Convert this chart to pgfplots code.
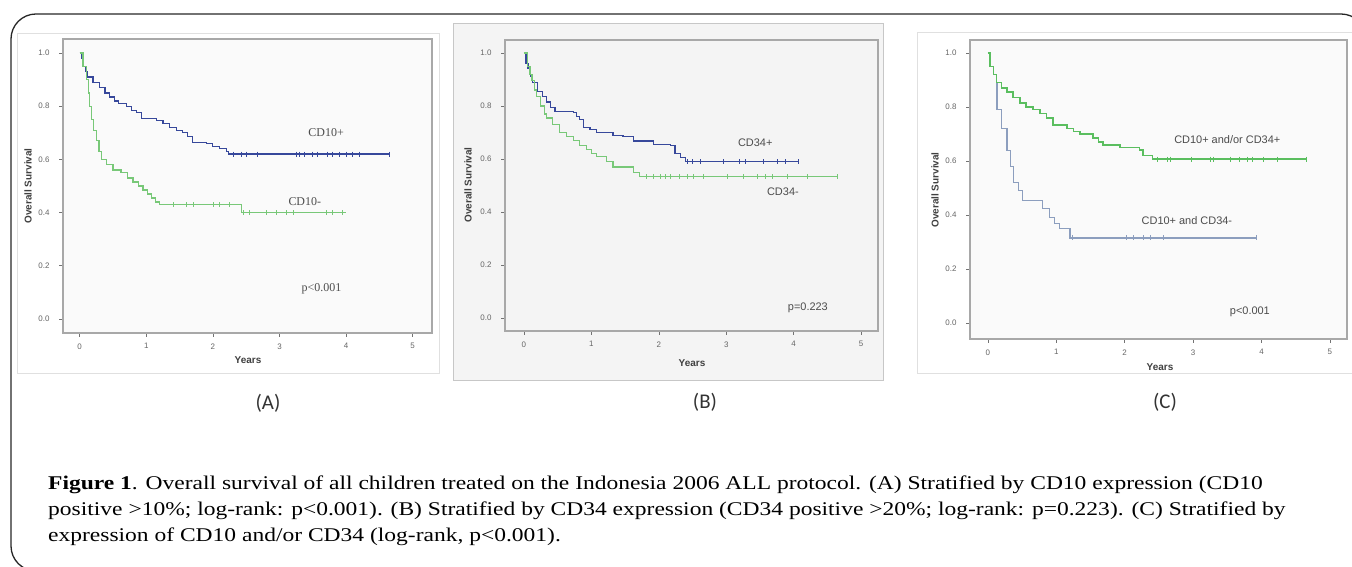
\documentclass[border=0pt]{standalone}
\usepackage{pgfplots}
\pgfplotsset{compat=1.18}
\usepackage{fontspec}
\setmainfont{Liberation Serif}
\setsansfont{Liberation Sans}
\newfontfamily\calib{Carlito}
\newfontfamily\capfont[FakeStretch=1.21]{Liberation Serif}

\definecolor{kmblue}{RGB}{55,72,155}
\definecolor{kmgreen}{RGB}{120,200,120}
\definecolor{kmgreenC}{RGB}{90,190,95}
\definecolor{kmgray}{RGB}{140,158,190}
\definecolor{axgray}{RGB}{168,168,168}
\definecolor{panelgray}{RGB}{244,244,244}

\pgfplotsset{
  spss/.style={
    scale only axis, anchor=south west,
    axis line style={axgray, line width=1.3bp},
    ytick={0,0.2,0.4,0.6,0.8,1},
    xtick={0,1,2,3,4,5},
    xtick pos=bottom, ytick pos=left,
    yticklabel style={/pgf/number format/fixed,
      /pgf/number format/fixed zerofill,
      /pgf/number format/precision=1, xshift=-6bp},
    xticklabel style={yshift=-3bp},
    tick align=outside,
    major tick length=4bp,
    tick style={black!55, line width=0.6bp},
    tick label style={font=\sffamily\fontsize{8}{9}\selectfont, text=black!60},
    /pgf/number format/assume math mode=true,
    axis on top,
  },
  km/.style={const plot, line width=1.2bp, no marks},
  cens/.style={only marks, mark=|, mark size=2.5bp, mark options={line width=0.6bp}},
}

\newcommand{\lbl}{\sffamily\bfseries\fontsize{10}{11}\selectfont\color{black!75}}
\newcommand{\inl}{\sffamily\fontsize{11}{12}\selectfont\color{black!70}}
\newcommand{\inlA}{\rmfamily\fontsize{12}{13}\selectfont\color{black!70}}

\begin{document}
\begin{tikzpicture}[x=1bp,y=1bp]
\useasboundingbox (0,0) rectangle (1352,567);

% panel backgrounds
\draw[black!12, fill=white] (17,194) rectangle (439,534);
\draw[black!22, fill=panelgray] (453,187) rectangle (883,544);
\draw[black!12, fill=white] (917,194) rectangle (1360,535);

% ---------------- (A) CD10 ----------------
\begin{axis}[spss, at={(63bp,234bp)}, width=369bp, height=294bp,
  xmin=-0.25, xmax=5.29, ymin=-0.053, ymax=1.053,
  axis background/.style={fill=white!98!black}]
\addplot[km, kmblue] coordinates {
 (0,1.0) (0.03,0.98) (0.06,0.95) (0.09,0.93) (0.12,0.91) (0.2,0.89)
 (0.3,0.87) (0.38,0.85) (0.45,0.835) (0.52,0.82) (0.58,0.81) (0.7,0.80)
 (0.78,0.785) (0.85,0.775) (0.93,0.755) (1.15,0.745) (1.25,0.735)
 (1.35,0.72) (1.45,0.71) (1.55,0.70) (1.62,0.685) (1.7,0.665) (1.9,0.66)
 (2.0,0.65) (2.1,0.64) (2.2,0.63) (2.23,0.62) (4.65,0.62)};
\addplot[cens, kmblue] coordinates {
 (2.30,0.62) (2.43,0.62) (2.5,0.62) (2.66,0.62) (3.26,0.62) (3.3,0.62)
 (3.38,0.62) (3.5,0.62) (3.57,0.62) (3.72,0.62) (3.8,0.62) (3.9,0.62)
 (4.0,0.62) (4.1,0.62) (4.2,0.62) (4.65,0.62)};
\addplot[km, kmgreen] coordinates {
 (0,1.0) (0.05,0.95) (0.1,0.90) (0.13,0.85) (0.15,0.80) (0.18,0.75)
 (0.21,0.71) (0.25,0.67) (0.29,0.63) (0.33,0.60) (0.4,0.58) (0.5,0.56)
 (0.62,0.55) (0.72,0.53) (0.8,0.515) (0.88,0.50) (0.95,0.485) (1.02,0.47)
 (1.08,0.455) (1.14,0.44) (1.2,0.43) (2.43,0.40) (4.0,0.40)};
\addplot[cens, kmgreen] coordinates {
 (1.4,0.43) (1.6,0.43) (1.7,0.43) (2.0,0.43) (2.1,0.43) (2.25,0.43)
 (2.45,0.40) (2.55,0.40) (2.8,0.40) (2.95,0.40) (3.1,0.40) (3.2,0.40)
 (3.7,0.40) (3.8,0.40) (3.95,0.40)};
\node[font=\inlA] at (axis cs:3.7,0.70) {CD10+};
\node[font=\inlA] at (axis cs:3.38,0.44) {CD10-};
\node[font=\inlA] at (axis cs:3.63,0.115) {p<0.001};
\end{axis}

% ---------------- (B) CD34 ----------------
\begin{axis}[spss, at={(505bp,236bp)}, width=373bp, height=291bp,
  xmin=-0.28, xmax=5.25, ymin=-0.049, ymax=1.049,
  axis background/.style={fill=panelgray}]
\addplot[km, kmblue] coordinates {
 (0,1.0) (0.03,0.96) (0.06,0.94) (0.1,0.91) (0.13,0.89) (0.2,0.855)
 (0.27,0.835) (0.34,0.815) (0.4,0.795) (0.46,0.78) (0.73,0.775)
 (0.78,0.76) (0.83,0.75) (0.88,0.72) (0.98,0.71) (1.08,0.70) (1.32,0.69)
 (1.47,0.685) (1.62,0.668) (1.92,0.655) (2.17,0.65) (2.24,0.62)
 (2.32,0.605) (2.39,0.59) (4.07,0.59)};
\addplot[cens, kmblue] coordinates {
 (2.42,0.59) (2.5,0.59) (2.61,0.59) (2.95,0.59) (3.2,0.59) (3.28,0.59)
 (3.55,0.59) (3.75,0.59) (3.87,0.59) (4.07,0.59)};
\addplot[km, kmgreen] coordinates {
 (0,1.0) (0.05,0.95) (0.09,0.92) (0.12,0.895) (0.16,0.86) (0.19,0.835)
 (0.25,0.80) (0.3,0.77) (0.34,0.755) (0.42,0.73) (0.53,0.70) (0.63,0.685)
 (0.73,0.67) (0.83,0.65) (0.93,0.635) (1.0,0.62) (1.08,0.61) (1.23,0.59)
 (1.32,0.57) (1.62,0.55) (1.71,0.533) (4.64,0.533)};
\addplot[cens, kmgreen] coordinates {
 (1.82,0.533) (1.92,0.533) (2.02,0.533) (2.09,0.533) (2.17,0.533)
 (2.31,0.533) (2.42,0.533) (2.51,0.533) (2.66,0.533) (3.01,0.533)
 (3.25,0.533) (3.46,0.533) (3.58,0.533) (3.68,0.533) (3.9,0.533)
 (4.2,0.533) (4.64,0.533)};
\node[font=\inl] at (axis cs:3.43,0.66) {CD34+};
\node[font=\inl] at (axis cs:3.84,0.475) {CD34-};
\node[font=\inl] at (axis cs:4.21,0.04) {p=0.223};
\end{axis}

% ---------------- (C) CD10 and/or CD34 ----------------
\begin{axis}[spss, at={(970bp,228bp)}, width=377bp, height=299bp,
  xmin=-0.26, xmax=5.25, ymin=-0.059, ymax=1.048,
  axis background/.style={fill=white!98!black}]
\addplot[km, kmgray] coordinates {
 (0,1.0) (0.03,0.95) (0.08,0.92) (0.13,0.89) (0.135,0.79) (0.2,0.72)
 (0.28,0.64) (0.33,0.58) (0.37,0.52) (0.45,0.49) (0.51,0.455) (0.8,0.425)
 (0.9,0.39) (0.98,0.37) (1.05,0.35) (1.2,0.315) (3.93,0.315)};
\addplot[cens, kmgray] coordinates {
 (1.24,0.315) (2.03,0.315) (2.12,0.315) (2.27,0.315) (2.37,0.315)
 (2.56,0.315) (3.93,0.315)};
\addplot[km, kmgreenC, line width=1.5bp] coordinates {
 (0,1.0) (0.03,0.95) (0.08,0.92) (0.13,0.89) (0.2,0.87) (0.28,0.855)
 (0.37,0.835) (0.47,0.815) (0.56,0.80) (0.66,0.79) (0.76,0.775)
 (0.86,0.76) (0.95,0.733) (1.16,0.72) (1.25,0.71) (1.35,0.70)
 (1.54,0.685) (1.62,0.67) (1.68,0.66) (1.93,0.65) (2.22,0.64) (2.27,0.62)
 (2.41,0.607) (4.66,0.607)};
\addplot[cens, kmgreenC] coordinates {
 (2.47,0.607) (2.62,0.607) (2.66,0.607) (2.98,0.607) (3.25,0.607)
 (3.29,0.607) (3.54,0.607) (3.68,0.607) (3.79,0.607) (3.87,0.607)
 (4.02,0.607) (4.23,0.607) (4.66,0.607)};
\node[font=\inl] at (axis cs:3.5,0.678) {CD10+ and/or CD34+};
\node[font=\inl] at (axis cs:2.91,0.38) {CD10+ and CD34-};
\node[font=\inl] at (axis cs:3.83,0.04) {p<0.001};
\end{axis}

% axis titles
\node[font=\lbl, rotate=90] at (28,381) {Overall Survival};
\node[font=\lbl] at (248,207) {Years};
\node[font=\lbl, rotate=90] at (468,382) {Overall Survival};
\node[font=\lbl] at (692,204) {Years};
\node[font=\lbl, rotate=90] at (935,377) {Overall Survival};
\node[font=\lbl] at (1160,200) {Years};

% panel letters
\node[font=\calib\fontsize{21}{24}\selectfont, text=black!80] at (268,164) {(A)};
\node[font=\calib\fontsize{21}{24}\selectfont, text=black!80] at (705,165) {(B)};
\node[font=\calib\fontsize{21}{24}\selectfont, text=black!80] at (1165,165) {(C)};

% caption
\node[anchor=base west, font=\capfont\fontsize{19.5}{26}\selectfont, inner sep=0pt] at (48,77)
 {\textbf{Figure 1}. Overall survival of all children treated on the Indonesia 2006 ALL protocol. (A) Stratified by CD10 expression (CD10};
\node[anchor=base west, font=\capfont\fontsize{19.5}{26}\selectfont, inner sep=0pt] at (48,51)
 {positive >10\%; log-rank: p<0.001). (B) Stratified by CD34 expression (CD34 positive >20\%; log-rank: p=0.223). (C) Stratified by};
\node[anchor=base west, font=\capfont\fontsize{19.5}{26}\selectfont, inner sep=0pt] at (48,25)
 {expression of CD10 and/or CD34 (log-rank, p<0.001).};

% outer frame
\draw[black!85, line width=1.3bp, rounded corners=25bp] (11,-4) rectangle (1366,553);
\end{tikzpicture}
\end{document}
